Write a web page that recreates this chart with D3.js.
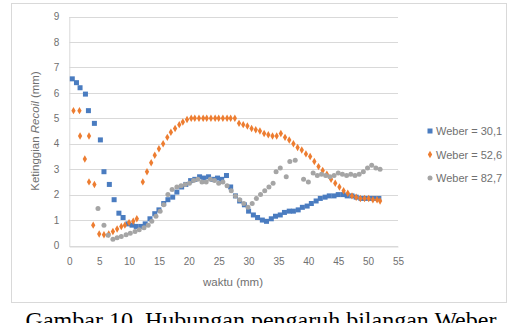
<!DOCTYPE html>
<html>
<head>
<meta charset="utf-8">
<script src="https://cdn.jsdelivr.net/npm/d3@7"></script>
<style>
  body { margin: 0; background: #fff; }
  svg { display: block; }
</style>
</head>
<body>
<div id="vis"></div>
<script>
// series: time (x) and recoil height (y)
var tBlue = [0.5,1.2,1.8,2.7,3.2,4.2,5.2,5.8,6.7,7.5,8.3,9.0,9.8,10.5,11.2,12.0,12.7,13.5,14.3,15.0,15.8,16.5,17.3,18.0,18.8,19.5,20.3,21.0,21.8,22.5,23.3,24.0,24.8,25.5,26.3,27.0,27.8,28.5,29.3,30.0,30.8,31.5,32.3,33.0,33.8,34.5,35.3,36.0,36.8,37.5,38.3,39.0,39.8,40.5,41.3,42.0,42.8,43.5,44.3,45.0,45.8,46.5,47.3,48.0,48.8,49.5,50.3,51.0,51.8];
var vBlue = [6.55,6.4,6.2,5.95,5.3,4.8,4.15,2.9,2.4,1.8,1.27,1.1,0.85,0.8,0.75,0.75,0.85,1.05,1.25,1.4,1.65,1.8,1.9,2.1,2.3,2.4,2.55,2.6,2.7,2.65,2.7,2.6,2.65,2.6,2.75,2.3,1.95,1.75,1.6,1.35,1.2,1.1,1.0,0.95,1.05,1.15,1.2,1.3,1.35,1.35,1.4,1.5,1.55,1.65,1.75,1.85,1.9,1.95,1.95,2.0,2.0,1.95,1.95,1.9,1.85,1.85,1.85,1.85,1.85];

var tOrange = [0.7,1.7,1.8,3.3,2.6,3.3,4.2,4.0,5.0,5.8,6.6,7.3,8.0,8.7,9.3,10.0,10.7,11.3,12.3,13.0,13.7,14.3,15.0,15.7,16.4,17.0,17.7,18.4,19.0,19.7,20.4,21.0,21.7,22.4,23.0,23.7,24.4,25.0,25.7,26.4,27.0,27.7,28.4,29.1,29.8,30.5,31.2,31.9,32.6,33.3,34.0,34.7,35.4,36.1,36.8,37.5,38.2,38.9,39.6,40.3,41.0,41.7,42.4,43.1,43.8,44.5,45.2,45.9,46.6,47.3,48.0,48.7,49.4,50.1,50.8,51.5,52.0];
var vOrange = [5.3,5.3,4.3,4.3,3.4,2.5,2.4,0.8,0.45,0.42,0.45,0.55,0.65,0.75,0.8,0.9,0.95,1.05,2.5,2.9,3.25,3.55,3.8,4.0,4.25,4.45,4.6,4.75,4.85,4.95,5.0,5.0,5.0,5.0,5.0,5.0,5.0,5.0,5.0,5.0,5.0,5.0,4.8,4.75,4.7,4.6,4.55,4.5,4.4,4.35,4.3,4.3,4.4,4.25,4.15,4.0,3.85,3.75,3.6,3.5,3.3,3.1,2.95,2.8,2.6,2.45,2.3,2.15,2.05,1.95,1.9,1.85,1.85,1.85,1.8,1.8,1.75];

var tGray = [4.8,5.8,6.5,7.3,8.0,8.7,9.5,10.2,11.0,11.7,12.5,13.2,13.8,14.5,15.2,15.8,16.5,17.2,18.0,18.7,19.4,20.1,20.8,21.5,22.2,22.9,23.6,24.3,25.0,25.7,26.4,27.1,27.8,28.5,29.2,29.9,30.6,31.3,32.0,32.7,33.4,34.1,34.6,35.3,36.3,36.9,37.8,39.2,40.0,40.8,41.5,42.2,42.9,43.6,44.3,45.0,45.7,46.4,47.1,47.8,48.5,49.2,49.9,50.6,51.3,52.0];
var vGray = [1.45,0.8,0.4,0.25,0.3,0.35,0.42,0.48,0.55,0.62,0.7,0.8,0.95,1.15,1.35,1.6,2.0,2.2,2.3,2.35,2.4,2.45,2.55,2.6,2.5,2.5,2.6,2.55,2.45,2.5,2.35,2.15,1.95,1.8,1.65,1.5,1.65,1.85,2.0,2.15,2.3,2.45,2.9,3.05,2.7,3.3,3.35,2.6,2.5,2.85,2.75,2.8,2.75,2.7,2.75,2.85,2.8,2.75,2.8,2.75,2.8,2.9,3.05,3.15,3.05,3.0];

var seriesNames = ["Weber = 30,1", "Weber = 52,6", "Weber = 82,7"];
var seriesColours = ["#4a7cc0", "#ed7d31", "#a5a5a5"];
var xTicks = [0,5,10,15,20,25,30,35,40,45,50,55];
var yTicks = [0,1,2,3,4,5,6,7,8,9];
var xTitle = "waktu (mm)";
var caption = "Gambar 10. Hubungan pengaruh bilangan Weber";

var width = 518, height = 323;
var svg = d3.select("#vis").append("svg")
    .attr("width", width)
    .attr("height", height);

// chart area frame
svg.append("rect")
    .attr("x", 11.5).attr("y", 3.5)
    .attr("width", 495).attr("height", 299)
    .attr("fill", "#fff")
    .attr("stroke", "#d9d9d9");

var x = d3.scaleLinear().domain([0, 55]).range([69.3, 398]);
var y = d3.scaleLinear().domain([0, 9]).range([245.5, 16.5]);

// horizontal gridlines
svg.append("g").selectAll("line").data(yTicks).enter()
    .append("line")
    .attr("x1", x(0)).attr("x2", x(55))
    .attr("y1", function(d){ return Math.round(y(d)) + 0.5; })
    .attr("y2", function(d){ return Math.round(y(d)) + 0.5; })
    .attr("stroke", "#d9d9d9");

// axes built with d3, domain lines kept faint
var yAxis = svg.append("g")
    .attr("transform", "translate(" + x(0) + ",0)")
    .call(d3.axisLeft(y).tickValues(yTicks).tickSize(0).tickPadding(10));
yAxis.select(".domain").attr("stroke", "#d9d9d9");

var xAxis = svg.append("g")
    .attr("transform", "translate(0," + (Math.round(y(0)) + 0.5) + ")")
    .call(d3.axisBottom(x).tickValues(xTicks).tickSize(0).tickPadding(11));
xAxis.select(".domain").attr("stroke", "#d9d9d9");

svg.selectAll(".tick text")
    .attr("font-family", "Liberation Sans, Arial, sans-serif")
    .attr("font-size", 10)
    .attr("fill", "#707070");

// axis titles
var yt = svg.append("text")
    .attr("transform", "translate(39,131) rotate(-90)")
    .attr("text-anchor", "middle")
    .attr("font-family", "Liberation Sans, Arial, sans-serif")
    .attr("font-size", 11.5)
    .attr("fill", "#707070");
yt.append("tspan").text("Ketinggian ");
yt.append("tspan").attr("font-style", "italic").text("Recoil");
yt.append("tspan").text(" (mm)");

svg.append("text")
    .attr("x", 233).attr("y", 286)
    .attr("text-anchor", "middle")
    .attr("font-family", "Liberation Sans, Arial, sans-serif")
    .attr("font-size", 11.5)
    .attr("fill", "#707070")
    .text(xTitle);

// markers
function pts(ts, vs){
    return ts.map(function(t, i){ return {t: t, v: vs[i]}; });
}

svg.append("g").selectAll("rect").data(pts(tBlue, vBlue)).enter()
    .append("rect")
    .attr("x", function(d){ return x(d.t) - 2.5; })
    .attr("y", function(d){ return y(d.v) - 2.5; })
    .attr("width", 5).attr("height", 5)
    .attr("fill", seriesColours[0]);

var diamond = d3.symbol().type(d3.symbolDiamond).size(16);
svg.append("g").selectAll("path").data(pts(tOrange, vOrange)).enter()
    .append("path")
    .attr("d", diamond)
    .attr("transform", function(d){ return "translate(" + x(d.t) + "," + y(d.v) + ")"; })
    .attr("fill", seriesColours[1]);

svg.append("g").selectAll("circle").data(pts(tGray, vGray)).enter()
    .append("circle")
    .attr("cx", function(d){ return x(d.t); })
    .attr("cy", function(d){ return y(d.v); })
    .attr("r", 2.5)
    .attr("fill", seriesColours[2]);

// legend
var legend = svg.append("g").selectAll("g").data(seriesNames).enter()
    .append("g")
    .attr("transform", function(d, i){ return "translate(430," + (131 + i * 23.5) + ")"; });

legend.each(function(d, i){
    var g = d3.select(this);
    if (i === 0){
        g.append("rect").attr("x", -2.5).attr("y", -2.5).attr("width", 5).attr("height", 5).attr("fill", seriesColours[0]);
    } else if (i === 1){
        g.append("path").attr("d", diamond).attr("fill", seriesColours[1]);
    } else {
        g.append("circle").attr("r", 2.5).attr("fill", seriesColours[2]);
    }
    g.append("text")
        .attr("x", 6).attr("y", 4)
        .attr("font-family", "Liberation Sans, Arial, sans-serif")
        .attr("font-size", 11)
        .attr("fill", "#707070")
        .text(d);
});

// figure caption, cut off by the bottom edge as in the source
svg.append("text")
    .attr("x", 261).attr("y", 327.5)
    .attr("text-anchor", "middle")
    .attr("font-family", "Liberation Serif, Times New Roman, serif")
    .attr("font-size", 24)
    .attr("fill", "#000")
    .text(caption);
</script>
</body>
</html>
